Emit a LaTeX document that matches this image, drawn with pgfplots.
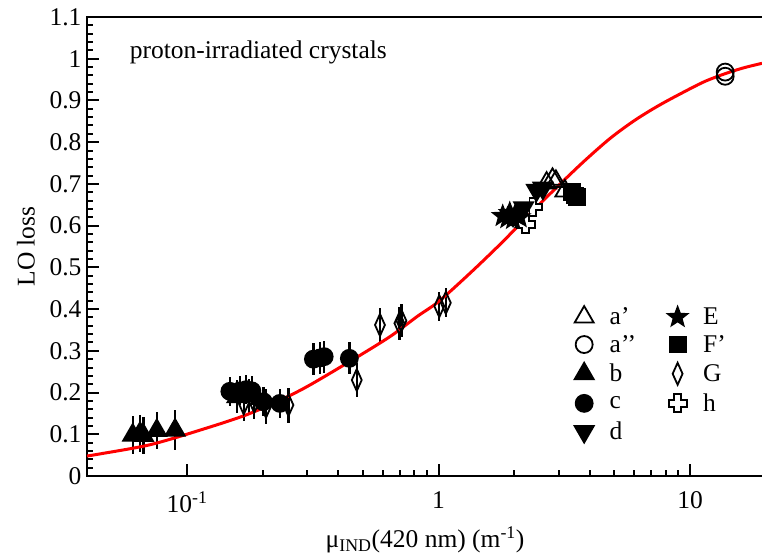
\documentclass[border=0pt]{standalone}
\usepackage{fontspec}
\setmainfont{Liberation Serif}
\usepackage{pgfplots}
\pgfplotsset{compat=1.18}

% filled five-pointed star
\pgfdeclareplotmark{fstar}{%
  \pgfpathmoveto{\pgfpointpolar{90}{\pgfplotmarksize}}%
  \pgfpathlineto{\pgfpointpolar{126}{0.42\pgfplotmarksize}}%
  \pgfpathlineto{\pgfpointpolar{162}{\pgfplotmarksize}}%
  \pgfpathlineto{\pgfpointpolar{198}{0.42\pgfplotmarksize}}%
  \pgfpathlineto{\pgfpointpolar{234}{\pgfplotmarksize}}%
  \pgfpathlineto{\pgfpointpolar{270}{0.42\pgfplotmarksize}}%
  \pgfpathlineto{\pgfpointpolar{306}{\pgfplotmarksize}}%
  \pgfpathlineto{\pgfpointpolar{342}{0.42\pgfplotmarksize}}%
  \pgfpathlineto{\pgfpointpolar{18}{\pgfplotmarksize}}%
  \pgfpathlineto{\pgfpointpolar{54}{0.42\pgfplotmarksize}}%
  \pgfpathclose
  \pgfusepathqfillstroke}

% outlined Greek cross
\pgfdeclareplotmark{ocross}{%
  \pgfmathsetlengthmacro\ca{0.36\pgfplotmarksize}%
  \pgfmathsetlengthmacro\cr{\pgfplotmarksize}%
  \pgfpathmoveto{\pgfpoint{\ca}{\cr}}%
  \pgfpathlineto{\pgfpoint{\ca}{\ca}}%
  \pgfpathlineto{\pgfpoint{\cr}{\ca}}%
  \pgfpathlineto{\pgfpoint{\cr}{-\ca}}%
  \pgfpathlineto{\pgfpoint{\ca}{-\ca}}%
  \pgfpathlineto{\pgfpoint{\ca}{-\cr}}%
  \pgfpathlineto{\pgfpoint{-\ca}{-\cr}}%
  \pgfpathlineto{\pgfpoint{-\ca}{-\ca}}%
  \pgfpathlineto{\pgfpoint{-\cr}{-\ca}}%
  \pgfpathlineto{\pgfpoint{-\cr}{\ca}}%
  \pgfpathlineto{\pgfpoint{-\ca}{\ca}}%
  \pgfpathlineto{\pgfpoint{-\ca}{\cr}}%
  \pgfpathclose
  \pgfusepathqfillstroke}

\pgfplotsset{
  pt/.style={only marks, black,
    mark options={solid, line width=1.8pt},
    error bars/y dir=both, error bars/y explicit,
    error bars/error mark=none,
    error bars/error bar style={line width=2.4pt, black}},
  sA/.style={pt, mark=triangle, mark size=11pt, mark options={solid, line width=1.8pt, fill=white}},
  sAA/.style={pt, mark=o, mark size=8.5pt, mark options={solid, line width=1.8pt, fill=white}},
  sB/.style={pt, mark=triangle*, mark size=11pt},
  sC/.style={pt, mark=*, mark size=8.5pt},
  sD/.style={pt, mark=triangle*, mark size=11pt, mark options={solid, line width=1.8pt, rotate=180}},
  sE/.style={pt, mark=fstar, mark size=10pt},
  sF/.style={pt, mark=square*, mark size=8pt},
  sG/.style={pt, mark=diamond, mark size=11pt, mark options={solid, line width=1.8pt, fill=white, xscale=0.6}},
  sH/.style={pt, mark=ocross, mark size=9pt, mark options={solid, line width=1.8pt, fill=white}},
}

\begin{document}
\begin{tikzpicture}[font=\fontsize{25.5}{30}\selectfont]
\begin{axis}[
  scale only axis,
  width=689.1pt, height=459pt,
  xmode=log,
  xmin=0.04, xmax=22,
  ymin=0, ymax=1.1,
  tick pos=left,
  xtick={0.1,1,10},
  xticklabels={10\textsuperscript{-1},1,10},
  ytick={0,0.1,0.2,0.3,0.4,0.5,0.6,0.7,0.8,0.9,1,1.1},
  yticklabels={0,0.1,0.2,0.3,0.4,0.5,0.6,0.7,0.8,0.9,1,1.1},
  minor y tick num=4,
  major tick length=12.5pt,
  minor tick length=6.5pt,
  every tick/.style={black, line width=2pt},
  axis line style={line width=2.8pt},
  tick label style={font=\fontsize{25.5}{30}\selectfont},
  xticklabel style={yshift=-12pt},
  yticklabel style={xshift=-2pt},
  label style={font=\fontsize{25.5}{30}\selectfont},
  xlabel={μ\textsubscript{IND}(420 nm) (m\textsuperscript{-1})},
  ylabel={LO loss},
  x label style={at={(axis description cs:0.4906,-0.1394)}, anchor=center},
  y label style={at={(axis description cs:-0.0885,0.5)}, anchor=center},
  legend columns=2,
  legend cell align=left,
  legend style={draw=none, fill=none, font=\fontsize{25.5}{30}\selectfont,
    at={(rel axis cs:0.703,0.375)}, anchor=north west, row sep=9pt,
    nodes={inner ysep=0pt},
    /tikz/every odd column/.append style={column sep=14pt},
    /tikz/every even column/.append style={column sep=30pt}},
]

% h: open crosses
\addplot[sH, forget plot] coordinates {
(2.10,0.618) (2.22,0.603) (2.37,0.645)
};

% b: filled triangles
\addplot[sB, forget plot] table[x=x, y=y, y error=e] {
x       y      e
0.0608  0.098  0.045
0.0650  0.102  0.045
0.0671  0.097  0.045
0.0758  0.109  0.045
0.0896  0.110  0.048
0.158   0.190  0.040
0.176   0.192  0.040
};

% c: filled circles
\addplot[sC, forget plot] table[x=x, y=y, y error=e] {
x       y      e
0.148   0.203  0.035
0.162   0.204  0.035
0.172   0.207  0.035
0.181   0.204  0.035
0.201   0.178  0.035
0.234   0.174  0.035
0.318   0.280  0.038
0.338   0.283  0.038
0.351   0.286  0.038
0.442   0.282  0.038
};

% G: open diamonds
\addplot[sG, forget plot] table[x=x, y=y, y error=e] {
x       y      e
0.168   0.174  0.042
0.185   0.178  0.042
0.206   0.166  0.042
0.253   0.170  0.042
0.473   0.230  0.040
0.585   0.362  0.040
0.699   0.366  0.040
0.712   0.372  0.040
1.007   0.407  0.035
1.069   0.415  0.035
};

% E: stars
\addplot[sE, forget plot] coordinates {
(1.80,0.623) (1.88,0.618) (1.92,0.630) (1.98,0.616) (2.02,0.626) (2.10,0.620)
};

% d: filled down triangles
\addplot[sD, forget plot] coordinates {
(2.18,0.643) (2.45,0.685) (2.60,0.690)
};

% a': open triangles
\addplot[sA, forget plot] coordinates {
(2.69,0.702) (2.84,0.711) (2.93,0.706) (3.18,0.683)
};

% F': filled squares
\addplot[sF, forget plot] coordinates {
(3.40,0.680) (3.48,0.672) (3.55,0.668)
};

% a'': open circles
\addplot[sAA, forget plot] coordinates {
(13.8,0.968) (13.8,0.958)
};

% fitted curve
\addplot[red, line width=3pt, smooth, forget plot] coordinates {
(0.04,0.048) (0.0451,0.053) (0.0713,0.075) (0.1127,0.110) (0.178,0.150)
(0.281,0.205) (0.445,0.275) (0.641,0.334) (0.821,0.382) (1.0,0.418)
(1.334,0.486) (1.756,0.555) (2.31,0.628) (2.85,0.683) (3.755,0.752)
(4.81,0.809) (6.05,0.853) (7.62,0.890) (10,0.928) (11.6,0.947)
(13.77,0.964) (16.3,0.978) (19.33,0.989)
};

% legend, filled row by row
\addlegendimage{sA}  \addlegendentry{a’}
\addlegendimage{sE}  \addlegendentry{E}
\addlegendimage{sAA} \addlegendentry{a’’}
\addlegendimage{sF}  \addlegendentry{F’}
\addlegendimage{sB}  \addlegendentry{b}
\addlegendimage{sG}  \addlegendentry{G}
\addlegendimage{sC}  \addlegendentry{c}
\addlegendimage{sH}  \addlegendentry{h}
\addlegendimage{sD}  \addlegendentry{d}

\node[anchor=west] at (rel axis cs:0.057,0.9237) {proton-irradiated crystals};
\end{axis}
\pgfresetboundingbox
\useasboundingbox (-87pt,-82pt) rectangle (675pt,476pt);
\end{tikzpicture}
\end{document}
